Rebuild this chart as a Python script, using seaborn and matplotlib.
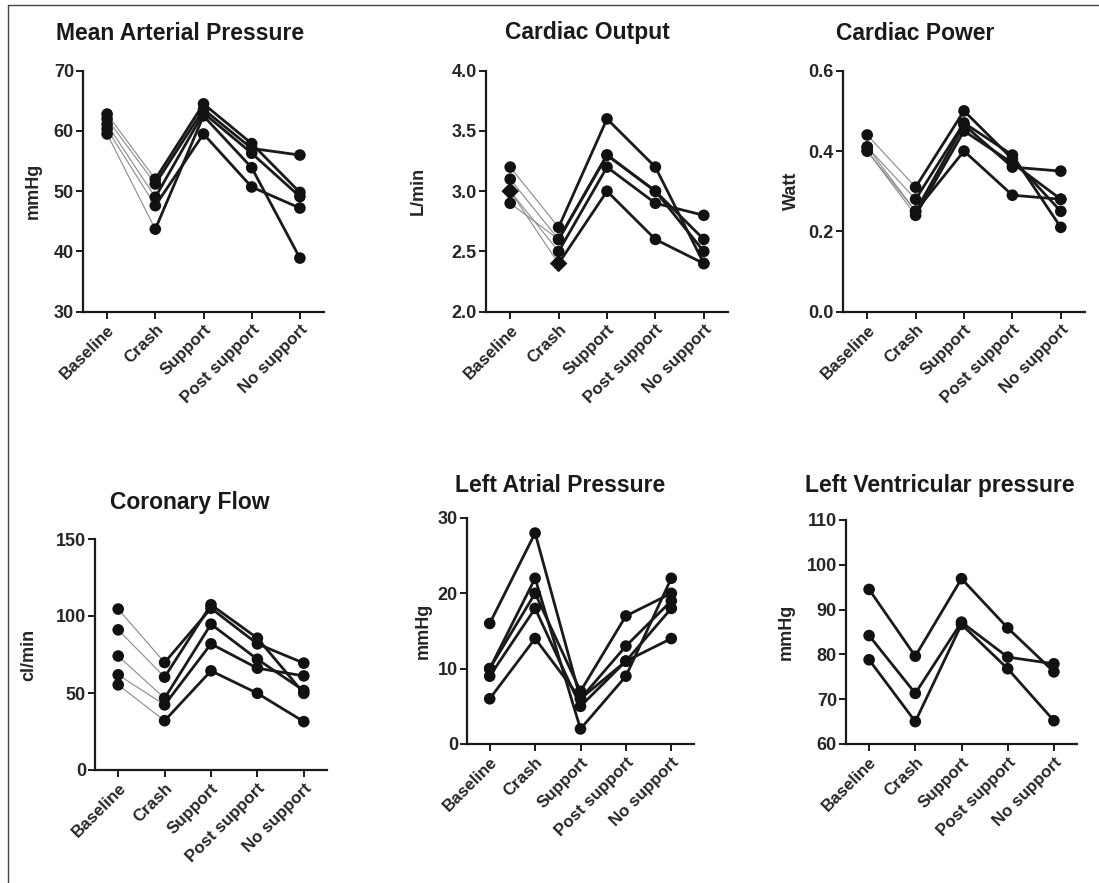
import numpy as np
import pandas as pd
import matplotlib
matplotlib.use("Agg")
import matplotlib.pyplot as plt
from matplotlib.lines import Line2D
import seaborn as sns

sns.set_style("white")
plt.rcParams['font.family'] = ['Liberation Sans', 'DejaVu Sans']
plt.rcParams['font.weight'] = 'bold'

stages = ["Baseline", "Crash", "Support", "Post support", "No support"]

# ---- Mean Arterial Pressure (mmHg)
map_s1 = [62.8, 52.0, 64.5, 57.9, 49.8]
map_s2 = [62.0, 51.2, 63.6, 57.1, 56.0]
map_s3 = [61.1, 49.0, 63.0, 56.3, 49.1]
map_s4 = [60.3, 47.6, 59.5, 50.7, 47.2]
map_s5 = [59.5, 43.7, 62.5, 53.9, 38.9]

# ---- Cardiac Output (L/min)
co_s1 = [3.2, 2.7, 3.6, 3.2, 2.4]
co_s2 = [3.1, 2.6, 3.3, 3.0, 2.6]
co_s3 = [3.0, 2.5, 3.2, 2.9, 2.8]
co_s4 = [2.9, 2.6, 3.3, 3.0, 2.5]
co_s5 = [3.0, 2.4, 3.0, 2.6, 2.4]   # diamond at baseline/crash

# ---- Cardiac Power (Watt)
cp_s1 = [0.44, 0.31, 0.50, 0.38, 0.25]
cp_s2 = [0.41, 0.28, 0.47, 0.39, 0.21]
cp_s3 = [0.40, 0.25, 0.465, 0.36, 0.35]
cp_s4 = [0.40, 0.24, 0.45, 0.37, 0.28]
cp_s5 = [0.41, 0.25, 0.40, 0.29, 0.28]

# ---- Coronary Flow (cl/min)
cf_s1 = [104.5, 69.8, 105.0, 81.9, 69.4]
cf_s2 = [91.0, 60.3, 107.3, 85.6, 49.8]
cf_s3 = [74.0, 46.6, 94.7, 71.9, 51.6]
cf_s4 = [61.8, 42.3, 81.9, 66.1, 61.1]
cf_s5 = [55.3, 32.0, 64.4, 49.8, 31.4]

# ---- Left Atrial Pressure (mmHg)
lap_s1 = [16, 28, 6, 13, 19]
lap_s2 = [10, 22, 2, 9, 22]
lap_s3 = [10, 20, 7, 17, 20]
lap_s4 = [9, 18, 5, 11, 14]
lap_s5 = [6, 14, 6, 11, 18]

# ---- Left Ventricular pressure (mmHg)
lvp_s1 = [94.5, 79.6, 96.9, 85.9, 76.1]
lvp_s2 = [84.2, 71.3, 87.2, 79.4, 77.9]
lvp_s3 = [78.8, 65.0, 86.7, 76.8, 65.2]

panels = [
    dict(title="Mean Arterial Pressure", ylabel="mmHg", series=[map_s1, map_s2, map_s3, map_s4, map_s5],
         ylim=(30, 70), ticks=[30, 40, 50, 60, 70], fmt="{:.0f}", thin=True,
         box=(83, 324, 70.7, 311.7), title_xy=(180, 33), ylab_x=42, diamond=None),
    dict(title="Cardiac Output", ylabel="L/min", series=[co_s1, co_s2, co_s3, co_s4, co_s5],
         ylim=(2.0, 4.0), ticks=[2.0, 2.5, 3.0, 3.5, 4.0], fmt="{:.1f}", thin=True,
         box=(486, 728, 70.7, 311.7), title_xy=(587, 33), ylab_x=427, diamond=4),
    dict(title="Cardiac Power", ylabel="Watt", series=[cp_s1, cp_s2, cp_s3, cp_s4, cp_s5],
         ylim=(0.0, 0.6), ticks=[0.0, 0.2, 0.4, 0.6], fmt="{:.1f}", thin=True,
         box=(843, 1085, 70.7, 311.7), title_xy=(915, 33), ylab_x=800, diamond=None),
    dict(title="Coronary Flow", ylabel="cl/min", series=[cf_s1, cf_s2, cf_s3, cf_s4, cf_s5],
         ylim=(0, 150), ticks=[0, 50, 100, 150], fmt="{:.0f}", thin=True,
         box=(95, 327, 539, 770), title_xy=(190, 503), ylab_x=37, diamond=None),
    dict(title="Left Atrial Pressure", ylabel="mmHg", series=[lap_s1, lap_s2, lap_s3, lap_s4, lap_s5],
         ylim=(0, 30), ticks=[0, 10, 20, 30], fmt="{:.0f}", thin=False,
         box=(467, 694, 518, 744), title_xy=(560, 485), ylab_x=432, diamond=None),
    dict(title="Left Ventricular pressure", ylabel="mmHg", series=[lvp_s1, lvp_s2, lvp_s3],
         ylim=(60, 110), ticks=[60, 70, 80, 90, 100, 110], fmt="{:.0f}", thin=False,
         box=(846, 1077, 520, 744), title_xy=(940, 485), ylab_x=795, diamond=None),
]

W, H = 1099, 883
fig = plt.figure(figsize=(W / 100, H / 100), dpi=100)
fig.patch.set_facecolor("white")

for p in panels:
    l, r, t, b = p["box"]
    ax = fig.add_axes([l / W, 1 - b / H, (r - l) / W, (b - t) / H])
    rows = []
    for si, vals in enumerate(p["series"]):
        for k, v in enumerate(vals):
            rows.append(dict(subject=si, stage=k, value=v))
    df = pd.DataFrame(rows)

    if p["thin"]:
        d0 = df[df.stage <= 1]
        sns.lineplot(data=d0, x="stage", y="value", units="subject", estimator=None,
                     color="#8a8a8a", linewidth=0.8, ax=ax, legend=False)
        d1 = df[df.stage >= 1]
    else:
        d1 = df
    sns.lineplot(data=d1, x="stage", y="value", units="subject", estimator=None,
                 color="#1a1a1a", linewidth=2.0, ax=ax, legend=False)

    if p["diamond"] is not None:
        dm = (df.subject == p["diamond"]) & (df.stage <= 1)
        sns.scatterplot(data=df[~dm], x="stage", y="value", marker="o", s=70,
                        color="#111111", edgecolor="none", ax=ax, legend=False, zorder=5)
        sns.scatterplot(data=df[dm], x="stage", y="value", marker="D", s=80,
                        color="#111111", edgecolor="none", ax=ax, legend=False, zorder=5)
    else:
        sns.scatterplot(data=df, x="stage", y="value", marker="o", s=70,
                        color="#111111", edgecolor="none", ax=ax, legend=False, zorder=5)

    ax.set_xlim(-0.5, 4.5)
    ax.set_ylim(*p["ylim"])
    ax.set_yticks(p["ticks"])
    ax.set_yticklabels([p["fmt"].format(v) for v in p["ticks"]], fontsize=13, fontweight="bold")
    ax.set_xticks(range(len(stages)))
    ax.set_xticklabels(stages, rotation=45, ha="right", rotation_mode="anchor",
                       fontsize=12.2, fontweight="bold")
    ax.set_xlabel("")
    ax.set_ylabel(p["ylabel"], fontsize=13, fontweight="bold")
    ax.yaxis.set_label_coords((p["ylab_x"] - l) / (r - l), 0.5)
    for s in ["top", "right"]:
        ax.spines[s].set_visible(False)
    for s in ["left", "bottom"]:
        ax.spines[s].set_color("#1a1a1a")
        ax.spines[s].set_linewidth(1.6)
    ax.tick_params(axis="both", direction="out", length=5, width=1.4, color="#1a1a1a",
                   left=True, bottom=True, pad=1.5)
    ax.tick_params(axis="x", pad=2.5)
    ax.set_facecolor("white")
    for sp in ax.spines.values():
        sp.set_clip_on(False)

    tx, ty = p["title_xy"]
    fig.text(tx / W, 1 - ty / H, p["title"], ha="center", va="center",
             fontsize=16.5, fontweight="bold", color="#1a1a1a")

# figure frame lines (top and left)
fig.add_artist(Line2D([8 / W, 1.0], [1 - 5 / H, 1 - 5 / H], color="#444444", linewidth=1.0))
fig.add_artist(Line2D([8 / W, 8 / W], [0.0, 1 - 5 / H], color="#444444", linewidth=1.0))

fig.savefig("out.png", dpi=100, facecolor="white")
